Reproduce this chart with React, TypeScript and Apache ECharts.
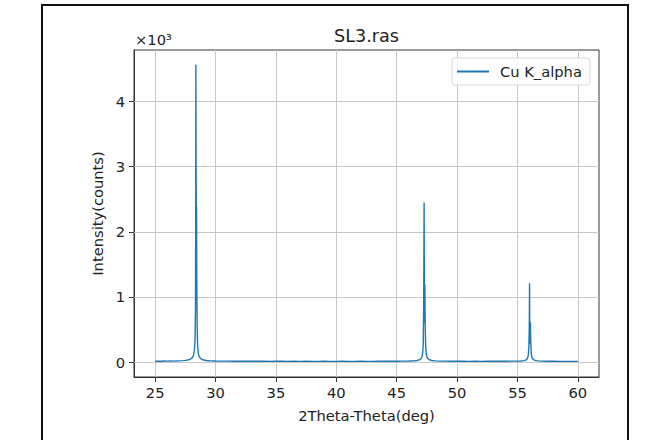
import React, { useEffect, useRef } from "react";
import * as echarts from "echarts";

const chartTitle = "SL3.ras";
const seriesName = "Cu K_alpha";
const xAxisName = "2Theta-Theta(deg)";
const yAxisName = "Intensity(counts)";
const xTicks = [25, 30, 35, 40, 45, 50, 55, 60];
const yTicks = [0, 1000, 2000, 3000, 4000];

const twoTheta = [
  25.0, 25.25, 25.5, 25.75, 26.0, 26.25, 26.5, 26.75, 27.0, 27.25, 27.5, 27.7, 27.85, 28.0, 28.1, 28.18, 28.25, 28.3,
  28.34, 28.36, 28.37, 28.39, 28.41, 28.43, 28.45, 28.48, 28.52, 28.58, 28.66, 28.78, 28.95, 29.2, 29.5, 30.0, 30.5,
  31.0, 31.5, 32.0, 32.5, 33.0, 33.5, 34.0, 34.5, 35.0, 35.5, 36.0, 36.5, 37.0, 37.5, 38.0, 38.5, 39.0, 39.5, 40.0,
  40.5, 41.0, 41.5, 42.0, 42.5, 43.0, 43.5, 44.0, 44.5, 45.0, 45.5, 46.0, 46.4, 46.7, 46.9, 47.02, 47.1, 47.16, 47.2,
  47.23, 47.25, 47.27, 47.29, 47.31, 47.33, 47.36, 47.4, 47.46, 47.55, 47.7, 47.9, 48.2, 48.6, 49.0, 49.5, 50.0, 50.5,
  51.0, 51.5, 52.0, 52.5, 53.0, 53.5, 54.0, 54.5, 55.0, 55.3, 55.55, 55.72, 55.82, 55.9, 55.95, 55.98, 56.0, 56.02,
  56.04, 56.07, 56.1, 56.14, 56.2, 56.3, 56.45, 56.7, 57.0, 57.5, 58.0, 58.5, 59.0, 59.5, 60.0,
];
const counts = [
  14, 16, 13, 17, 15, 18, 16, 19, 20, 23, 27, 33, 42, 55, 75, 110, 180, 330,
  800, 2200, 4560, 3100, 2020, 2380, 1300, 520, 240, 130, 80, 52, 36, 26, 21, 18, 16,
  15, 14, 15, 13, 14, 13, 14, 12, 13, 14, 12, 13, 12, 13, 12, 12, 13, 12, 12,
  13, 12, 12, 13, 12, 12, 13, 13, 14, 14, 15, 17, 20, 26, 36, 55, 90, 160, 300,
  800, 1500, 2450, 1100, 600, 1200, 560, 230, 110, 60, 36, 25, 19, 16, 15, 14, 13, 13,
  12, 13, 12, 13, 13, 14, 14, 15, 16, 18, 24, 34, 55, 110, 260, 600, 1210, 450,
  280, 610, 300, 130, 70, 42, 27, 19, 16, 14, 13, 12, 12, 12, 11,
];

const FONT = "DejaVu Sans";

export default function App() {
  const ref = useRef<HTMLDivElement>(null);
  useEffect(() => {
    if (!ref.current) return;
    const chart = echarts.init(ref.current, undefined, { renderer: "svg" });
    const data = twoTheta.map((x, i) => [x, counts[i]]);
    const gridLine = { color: "#c6c6c6", width: 1, type: "solid" as const };
    chart.setOption({
      animation: false,
      backgroundColor: "#ffffff",
      textStyle: { fontFamily: FONT },
      grid: {
        left: 134,
        right: 65,
        top: 50,
        bottom: 63,
        show: true,
        borderColor: "#333",
        borderWidth: 1,
        backgroundColor: "transparent",
      },
      legend: {
        data: [{ name: seriesName, icon: "rect" }],
        left: 452,
        top: 58,
        itemWidth: 32,
        itemHeight: 2,
        padding: [6, 8, 6, 5],
        backgroundColor: "rgba(255,255,255,0.85)",
        borderColor: "#d8d8d8",
        borderWidth: 1,
        borderRadius: 3,
        textStyle: { fontSize: 14.7, color: "#222", fontFamily: FONT, padding: [0, 0, 0, 6] },
      },
      xAxis: {
        type: "value",
        min: 23.25,
        max: 61.75,
        name: xAxisName,
        nameLocation: "middle",
        nameGap: 31,
        nameTextStyle: { fontSize: 14.7, color: "#222", fontFamily: FONT },
        axisLine: { show: true, onZero: false, lineStyle: { color: "#333", width: 1 } },
        axisTick: { show: true, customValues: xTicks, length: 5, inside: false, lineStyle: { color: "#333" } },
        axisLabel: { customValues: xTicks, margin: 8, fontSize: 14.7, color: "#222", fontFamily: FONT },
        splitLine: { show: false },
      },
      yAxis: {
        type: "value",
        min: -228,
        max: 4788,
        name: yAxisName,
        nameLocation: "middle",
        nameGap: 28,
        nameRotate: 90,
        nameTextStyle: { fontSize: 14.7, color: "#222", fontFamily: FONT },
        axisLine: { show: true, onZero: false, lineStyle: { color: "#333", width: 1 } },
        axisTick: { show: true, customValues: yTicks, length: 5, inside: false, lineStyle: { color: "#333" } },
        axisLabel: {
          customValues: yTicks,
          margin: 9,
          fontSize: 14.7,
          color: "#222",
          fontFamily: FONT,
          formatter: (v: number) => String(Math.round(v / 1000)),
        },
        splitLine: { show: false },
      },
      series: [
        {
          name: "grid",
          type: "line",
          data: [],
          z: 1,
          silent: true,
          markLine: {
            z: 1,
            silent: true,
            symbol: "none",
            label: { show: false },
            lineStyle: gridLine,
            emphasis: { disabled: true },
            data: [
              ...xTicks.map((v) => ({ xAxis: v, lineStyle: gridLine })),
              ...yTicks.map((v) => ({ yAxis: v, lineStyle: gridLine })),
            ],
          },
        },
        {
          name: seriesName,
          type: "line",
          data,
          z: 3,
          showSymbol: false,
          symbol: "none",
          sampling: undefined,
          color: "#1f77b4",
          lineStyle: { color: "#1f77b4", width: 1.4 },
          itemStyle: { color: "#1f77b4" },
        },
      ],
      graphic: [
        {
          type: "rect",
          silent: true,
          z: 0,
          shape: { x: 42, y: 5, width: 586, height: 460 },
          style: { fill: "none", stroke: "#111", lineWidth: 2 },
        },
        {
          type: "text",
          silent: true,
          x: 366.5,
          y: 36,
          style: {
            text: chartTitle,
            fontSize: 17.6,
            fontFamily: FONT,
            fill: "#222",
            textAlign: "center",
            textVerticalAlign: "middle",
          },
        },
        {
          type: "text",
          silent: true,
          x: 135,
          y: 39,
          style: {
            text: "×10³",
            fontSize: 14.7,
            fontFamily: FONT,
            fill: "#222",
            textAlign: "left",
            textVerticalAlign: "middle",
          },
        },
      ],
    });
    return () => chart.dispose();
  }, []);
  return (
    <div
      ref={ref}
      style={{ position: "absolute", left: 0, top: 0, width: 664, height: 440 }}
    />
  );
}
